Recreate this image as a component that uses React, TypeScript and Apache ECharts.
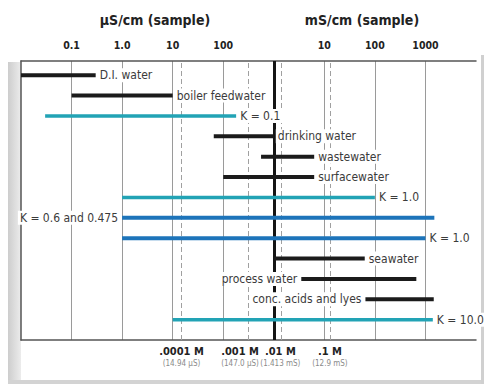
import React, { useEffect, useRef } from 'react';
import * as echarts from 'echarts';

// ---- data ----
const rowLabels = [
  'D.I. water',
  'boiler feedwater',
  'K = 0.1',
  'drinking water',
  'wastewater',
  'surfacewater',
  'K = 1.0',
  'K = 0.6 and 0.475',
  'K = 1.0',
  'seawater',
  'process water',
  'conc. acids and lyes',
  'K = 10.0',
];
// conductivity ranges in µS/cm (log scale)
const rangeLow = [0.01, 0.1, 0.03, 65, 560, 100, 1, 1, 1, 1000, 3500, 65000, 10];
const rangeHigh = [0.3, 10, 180, 1000, 6300, 6300, 100000, 1500000, 1000000, 63000, 660000, 1460000, 1400000];
const rowKind = ['sample', 'sample', 'cellTeal', 'sample', 'sample', 'sample', 'cellTeal', 'cellBlue', 'cellBlue', 'sample', 'sample', 'sample', 'cellTeal'];
const labelSide = ['right', 'right', 'right', 'right', 'right', 'right', 'right', 'left', 'right', 'right', 'left', 'left', 'right'];

// tick labels for decades 0.01 … 1e7 µS/cm (µS part, then mS part)
const topTickLabels = ['', '0.1', '1.0', '10', '100', '', '10', '100', '1000', ''];
const axisTitles = ['µS/cm (sample)', 'mS/cm (sample)'];

// KCl molar standards (positions as drawn)
const molarRefs = [14.94, 310, 1413, 12900];
const molarLabels = ['.0001 M', '.001 M', '.01 M', '.1 M'];
const molarSubLabels = ['(14.94 µS)', '(147.0 µS)', '(1.413 mS)', '(12.9 mS)'];
const unitSwitch = 1000; // 1 mS/cm

const FONT = '"DejaVu Sans Condensed", "Liberation Sans", sans-serif';

const colorOf = (k: string) => (k === 'sample' ? '#1b1b1b' : k === 'cellTeal' ? '#22a3b5' : '#1d74ba');

export default function App() {
  const ref = useRef<HTMLDivElement>(null);
  useEffect(() => {
    if (!ref.current) return;
    const chart = echarts.init(ref.current, null, { renderer: 'svg' });
    const yMin = -0.7;
    const yMax = 13;
    const molarLabelShift = [0, -8, -1, 0];
    const option: any = {
      animation: false,
      backgroundColor: '#ffffff',
      grid: { left: 21, top: 61, width: 455, height: 279 },
      xAxis: [
        {
          type: 'log',
          logBase: 10,
          position: 'top',
          min: 0.01,
          max: 1e7,
          splitNumber: 9,
          axisLine: { show: true, onZero: false, lineStyle: { color: '#555', width: 1.5 } },
          axisTick: { show: false },
          axisLabel: {
            margin: 11,
            fontFamily: FONT,
            fontWeight: 'bold',
            fontSize: 10.5,
            color: '#222',
            formatter: (v: number) => topTickLabels[Math.round(Math.log10(v)) + 2] ?? '',
          },
          splitLine: { show: true, showMinLine: false, showMaxLine: false, lineStyle: { color: '#9a9a9a', width: 1 } },
        },
        {
          type: 'log',
          logBase: 10,
          position: 'bottom',
          min: 0.01,
          max: 1e7,
          splitNumber: 9,
          axisLine: { show: true, onZero: false, lineStyle: { color: '#555', width: 1.5 } },
          axisTick: { show: false },
          axisLabel: { show: false },
          splitLine: { show: false },
        },
      ],
      yAxis: {
        type: 'value',
        inverse: true,
        min: yMin,
        max: yMax,
        axisLine: { show: true, onZero: false, lineStyle: { color: '#555', width: 1.5 } },
        axisTick: { show: false },
        axisLabel: { show: false },
        splitLine: { show: false },
      },
      graphic: [
        {
          type: 'rect',
          shape: { x: 8, y: 62, width: 13, height: 322 },
          style: {
            fill: new echarts.graphic.LinearGradient(0, 0, 1, 0, [
              { offset: 0, color: '#cdcdcd' },
              { offset: 1, color: '#ececec' },
            ]),
          },
          silent: true,
        },
        { type: 'rect', shape: { x: 8, y: 380, width: 476, height: 4 }, style: { fill: '#d3d3d3' }, silent: true },
        { type: 'rect', shape: { x: 481, y: 55, width: 3, height: 329 }, style: { fill: '#d0d0d0' }, silent: true },
        ...axisTitles.map((t, k) => ({
          type: 'text',
          x: k === 0 ? 155 : 362,
          y: 20,
          style: {
            text: t,
            font: `bold 14px ${FONT}`,
            fill: '#222',
            align: 'center',
            verticalAlign: 'middle',
            textAlign: 'center',
            textVerticalAlign: 'middle',
          },
        })),
      ],
      series: [
        {
          type: 'custom',
          z: 10,
          xAxisIndex: 0,
          yAxisIndex: 0,
          encode: { x: [0, 1], y: 2 },
          data: rowLabels.map((_, i) => [rangeLow[i], rangeHigh[i], i]),
          renderItem: (params: any, api: any) => {
            const i = params.dataIndex;
            const y = api.value(2);
            const p0 = api.coord([api.value(0), y]);
            const p1 = api.coord([api.value(1), y]);
            const kind = rowKind[i];
            const side = labelSide[i];
            const tx = side === 'right' ? p1[0] + 2 : p0[0] - 2;
            return {
              type: 'group',
              children: [
                {
                  type: 'line',
                  shape: { x1: p0[0], y1: p0[1], x2: p1[0], y2: p1[1] },
                  style: { stroke: colorOf(kind), lineWidth: kind === 'cellTeal' ? 3.5 : 4, lineCap: 'butt' },
                },
                {
                  type: 'text',
                  x: tx,
                  y: p0[1],
                  style: {
                    text: rowLabels[i],
                    font: `12px ${FONT}`,
                    fill: '#3b3b3b',
                    align: side === 'right' ? 'left' : 'right',
                    verticalAlign: 'middle',
                    textAlign: side === 'right' ? 'left' : 'right',
                    textVerticalAlign: 'middle',
                    backgroundColor: '#ffffff',
                    padding: [1, 2],
                  },
                },
              ],
            };
          },
          markLine: {
            silent: true,
            symbol: ['none', 'none'],
            label: {
              position: 'start',
              distance: 5,
              rich: {
                a: { fontFamily: FONT, fontWeight: 'bold', fontSize: 11, color: '#222', lineHeight: 13, align: 'center' },
                b: { fontFamily: FONT, fontSize: 8, color: '#8a8a8a', lineHeight: 11, align: 'center' },
              },
            },
            data: [
              ...molarRefs.map((v, k) => [
                {
                  coord: [v, yMax],
                  lineStyle: { color: '#a0a0a0', width: 1, type: [5, 3] },
                  label: {
                    show: true,
                    offset: [molarLabelShift[k], 0],
                    formatter: `{a|${molarLabels[k]}}\n{b|${molarSubLabels[k]}}`,
                  },
                },
                { coord: [v, yMin] },
              ]),
              [
                {
                  coord: [unitSwitch, yMax],
                  lineStyle: { color: '#151515', width: 3, type: 'solid' },
                  label: { show: false },
                },
                { coord: [unitSwitch, yMin] },
              ],
            ],
          },
        },
      ],
    };
    chart.setOption(option);
    return () => chart.dispose();
  }, []);
  return (
    <div
      ref={ref}
      style={{ position: 'absolute', left: 0, top: 0, width: 484, height: 384, background: '#fff' }}
    />
  );
}
